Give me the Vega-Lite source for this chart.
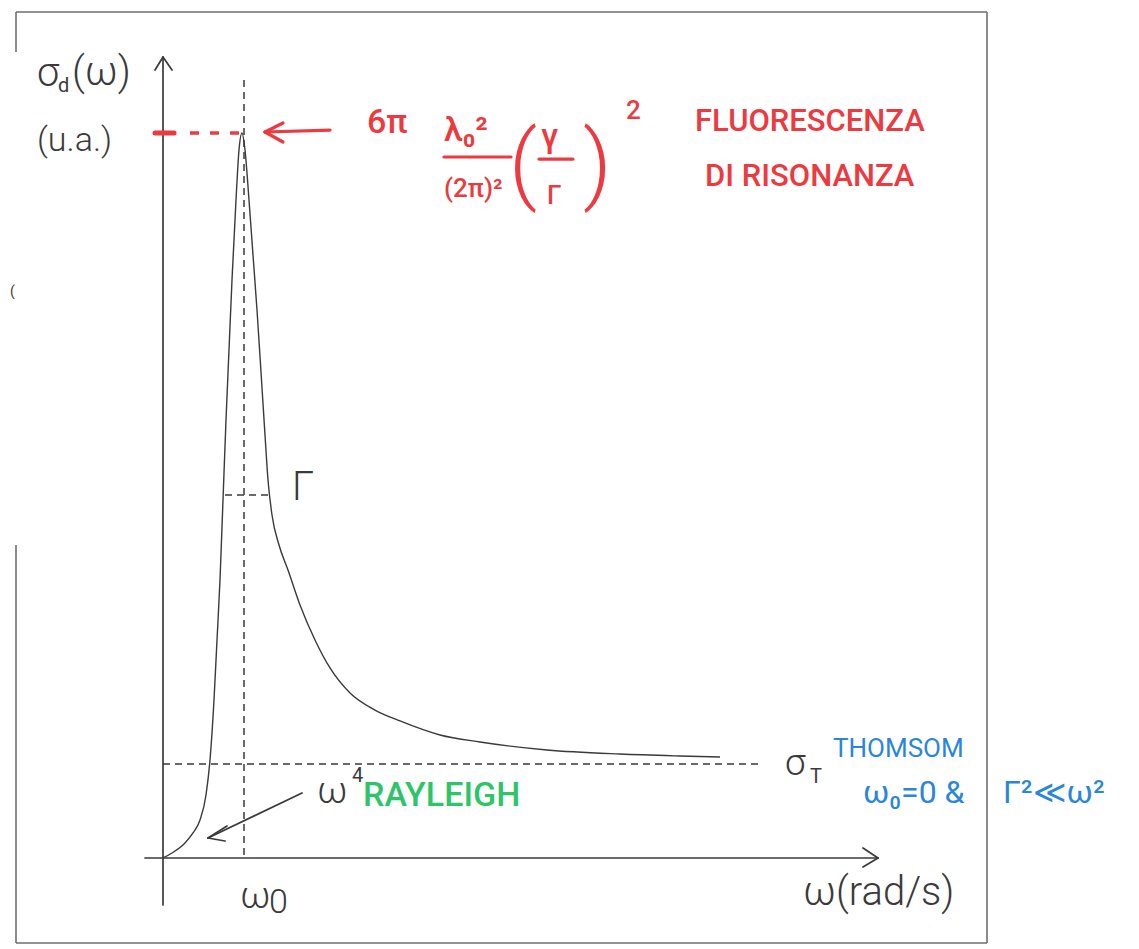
{
  "$schema": "https://vega.github.io/schema/vega-lite/v6.json",
  "width": 1139,
  "height": 949,
  "padding": 0,
  "autosize": {"type": "fit", "contains": "padding"},
  "background": "white",
  "config": {"view": {"stroke": null}},
  "datasets": {
    "frame": [
      {"x": -18.375, "y": 116.69, "x2": 103.0, "y2": 116.69},
      {"x": 103.0, "y": 116.69, "x2": 103.0, "y2": -11.72},
      {"x": -18.375, "y": -11.72, "x2": 103.0, "y2": -11.72},
      {"x": -18.375, "y": 116.69, "x2": -18.375, "y2": 111.17},
      {"x": -18.375, "y": 43.17, "x2": -18.375, "y2": -11.72}
    ],
    "axes": [
      {"x": 0, "y": 110.48, "x2": 0, "y2": -6.48},
      {"x": -1, "y": 108.69, "x2": 0, "y2": 110.48},
      {"x": 1.125, "y": 108.69, "x2": 0, "y2": 110.48},
      {"x": -2.25, "y": 0, "x2": 89.375, "y2": 0},
      {"x": 87.5, "y": 1.38, "x2": 89.375, "y2": 0},
      {"x": 87.5, "y": -1.24, "x2": 89.375, "y2": 0},
      {"x": 17.375, "y": 8.97, "x2": 5.625, "y2": 2.76},
      {"x": 8.0, "y": 4.41, "x2": 5.625, "y2": 2.76},
      {"x": 7.75, "y": 2.34, "x2": 5.625, "y2": 2.76}
    ],
    "curve": [
      {"x": 0, "y": 0},
      {"x": 1.125, "y": 0.69},
      {"x": 2.75, "y": 2.07},
      {"x": 3.75, "y": 3.45},
      {"x": 4.625, "y": 5.24},
      {"x": 5.375, "y": 8.69},
      {"x": 5.875, "y": 13.52},
      {"x": 6.375, "y": 21.79},
      {"x": 6.75, "y": 30.07},
      {"x": 7.125, "y": 38.34},
      {"x": 7.5, "y": 49.38},
      {"x": 7.875, "y": 60.41},
      {"x": 8.25, "y": 70.07},
      {"x": 8.625, "y": 79.72},
      {"x": 9.125, "y": 90.76},
      {"x": 9.5, "y": 97.66},
      {"x": 9.875, "y": 100},
      {"x": 10.25, "y": 97.66},
      {"x": 10.75, "y": 90.76},
      {"x": 11.25, "y": 83.17},
      {"x": 11.75, "y": 75.59},
      {"x": 12.25, "y": 67.03},
      {"x": 12.75, "y": 58.34},
      {"x": 13.125, "y": 52.14},
      {"x": 13.625, "y": 47.31},
      {"x": 14.5, "y": 43.17},
      {"x": 15.625, "y": 39.72},
      {"x": 17.125, "y": 34.9},
      {"x": 19.0, "y": 30.07},
      {"x": 20.875, "y": 26.21},
      {"x": 23.375, "y": 22.76},
      {"x": 26.5, "y": 20.41},
      {"x": 29.625, "y": 18.9},
      {"x": 34.625, "y": 16.97},
      {"x": 39.625, "y": 16.0},
      {"x": 48.0, "y": 14.9},
      {"x": 57.125, "y": 14.34},
      {"x": 64.625, "y": 14.07},
      {"x": 69.625, "y": 13.93}
    ],
    "guides": [
      {"x": 10.125, "y": 107.31, "x2": 10.125, "y2": 0.41},
      {"x": 0, "y": 12.97, "x2": 75.0, "y2": 12.97},
      {"x": 7.75, "y": 50.07, "x2": 13.375, "y2": 50.07}
    ],
    "peakDash": [
      {"x": 3.375, "y": 100, "x2": 9.875, "y2": 100}
    ],
    "peakTick": [
      {"x": -1, "y": 100, "x2": 1.375, "y2": 100}
    ],
    "redLines": [
      {"x": 20.875, "y": 100.41, "x2": 12.75, "y2": 100.14},
      {"x": 15.0, "y": 101.38, "x2": 12.75, "y2": 100.14},
      {"x": 15.0, "y": 98.76, "x2": 12.75, "y2": 100.14},
      {"x": 35.125, "y": 96.69, "x2": 43.5, "y2": 96.69},
      {"x": 47.0, "y": 96.41, "x2": 51.25, "y2": 96.41}
    ],
    "blackXL": [
      {"x": -15.75, "y": 106.48, "t": "σ"},
      {"x": -11.375, "y": 106.62, "t": "(ω)"},
      {"x": 80.0, "y": -6.48, "t": "ω(rad/s)"},
      {"x": 16.125, "y": 49.38, "t": "Γ"}
    ],
    "blackL": [
      {"x": 19.25, "y": 7.59, "t": "ω"},
      {"x": 77.75, "y": 11.45, "t": "σ"},
      {"x": 9.625, "y": -6.9, "t": "ω"}
    ],
    "blackM": [
      {"x": -15.75, "y": 97.52, "t": "(u.a.)"},
      {"x": 13.25, "y": -7.59, "t": "0"}
    ],
    "blackS": [
      {"x": -13.125, "y": 105.66, "t": "d"},
      {"x": 23.625, "y": 10.48, "t": "4"},
      {"x": 80.875, "y": 10.34, "t": "T"}
    ],
    "blackXS": [
      {"x": -19.125, "y": 77.52, "t": "("}
    ],
    "redL": [
      {"x": 25.5, "y": 100, "t": "6π"},
      {"x": 35.125, "y": 98.9, "t": "λ₀²"},
      {"x": 47.25, "y": 98.07, "t": "γ"}
    ],
    "redM": [
      {"x": 35.125, "y": 91.17, "t": "(2π)²"},
      {"x": 48.0, "y": 90.21, "t": "Γ"},
      {"x": 57.875, "y": 101.93, "t": "2"}
    ],
    "redWords": [
      {"x": 66.5, "y": 100.28, "t": "FLUORESCENZA"},
      {"x": 67.75, "y": 92.69, "t": "DI RISONANZA"}
    ],
    "redParens": [
      {"x": 43.25, "y": 95.31, "t": "("},
      {"x": 52.5, "y": 95.31, "t": ")"}
    ],
    "blueTitle": [
      {"x": 83.75, "y": 13.93, "t": "THOMSOM"}
    ],
    "blueCond": [
      {"x": 87.5, "y": 7.59, "t": "ω₀=0 &"},
      {"x": 105.0, "y": 7.59, "t": "Γ²≪ω²"}
    ],
    "green": [
      {"x": 25.0, "y": 7.17, "t": "RAYLEIGH"}
    ]
  },
  "encoding": {
    "x": {"field": "x", "type": "quantitative", "scale": {"domain": [-20.375, 122], "nice": false, "zero": false}, "axis": null},
    "y": {"field": "y", "type": "quantitative", "scale": {"domain": [-12.552, 118.345], "nice": false, "zero": false}, "axis": null}
  },
  "layer": [
    {"data": {"name": "frame"}, "mark": {"type": "rule", "color": "#6e6e6e", "strokeWidth": 1.6}, "encoding": {"x2": {"field": "x2"}, "y2": {"field": "y2"}}},
    {"data": {"name": "axes"}, "mark": {"type": "rule", "color": "#3a3a3a", "strokeWidth": 1.7, "strokeCap": "round"}, "encoding": {"x2": {"field": "x2"}, "y2": {"field": "y2"}}},
    {"data": {"name": "curve"}, "mark": {"type": "line", "color": "#3a3a3a", "strokeWidth": 1.4, "interpolate": "monotone"}, "encoding": {}},
    {"data": {"name": "guides"}, "mark": {"type": "rule", "color": "#3a3a3a", "strokeWidth": 1.5, "strokeDash": [7, 5]}, "encoding": {"x2": {"field": "x2"}, "y2": {"field": "y2"}}},
    {"data": {"name": "peakDash"}, "mark": {"type": "rule", "color": "#ec3a40", "strokeWidth": 3.5, "strokeDash": [9, 11]}, "encoding": {"x2": {"field": "x2"}, "y2": {"field": "y2"}}},
    {"data": {"name": "peakTick"}, "mark": {"type": "rule", "color": "#ec3a40", "strokeWidth": 5, "strokeCap": "round"}, "encoding": {"x2": {"field": "x2"}, "y2": {"field": "y2"}}},
    {"data": {"name": "redLines"}, "mark": {"type": "rule", "color": "#ec3a40", "strokeWidth": 3.2, "strokeCap": "round"}, "encoding": {"x2": {"field": "x2"}, "y2": {"field": "y2"}}},
    {"data": {"name": "blackXL"}, "mark": {"type": "text", "font": "Roboto", "fontWeight": 300, "fontSize": 40, "color": "#3a3a3a", "align": "left", "baseline": "alphabetic"}, "encoding": {"text": {"field": "t"}}},
    {"data": {"name": "blackL"}, "mark": {"type": "text", "font": "Roboto", "fontWeight": 300, "fontSize": 37, "color": "#3a3a3a", "align": "left", "baseline": "alphabetic"}, "encoding": {"text": {"field": "t"}}},
    {"data": {"name": "blackM"}, "mark": {"type": "text", "font": "Roboto", "fontWeight": 300, "fontSize": 34, "color": "#3a3a3a", "align": "left", "baseline": "alphabetic"}, "encoding": {"text": {"field": "t"}}},
    {"data": {"name": "blackS"}, "mark": {"type": "text", "font": "Roboto", "fontWeight": 400, "fontSize": 20, "color": "#3a3a3a", "align": "left", "baseline": "alphabetic"}, "encoding": {"text": {"field": "t"}}},
    {"data": {"name": "blackXS"}, "mark": {"type": "text", "font": "Roboto", "fontWeight": 400, "fontSize": 14, "color": "#3a3a3a", "align": "left", "baseline": "alphabetic"}, "encoding": {"text": {"field": "t"}}},
    {"data": {"name": "redL"}, "mark": {"type": "text", "font": "Roboto", "fontWeight": 500, "fontSize": 34, "color": "#ec3a40", "align": "left", "baseline": "alphabetic"}, "encoding": {"text": {"field": "t"}}},
    {"data": {"name": "redM"}, "mark": {"type": "text", "font": "Roboto", "fontWeight": 500, "fontSize": 26, "color": "#ec3a40", "align": "left", "baseline": "alphabetic"}, "encoding": {"text": {"field": "t"}}},
    {"data": {"name": "redWords"}, "mark": {"type": "text", "font": "Roboto", "fontWeight": 500, "fontSize": 31, "color": "#ec3a40", "align": "left", "baseline": "alphabetic"}, "encoding": {"text": {"field": "t"}}},
    {"data": {"name": "redParens"}, "mark": {"type": "text", "font": "Roboto", "fontWeight": 300, "fontSize": 88, "color": "#ec3a40", "align": "left", "baseline": "middle"}, "encoding": {"text": {"field": "t"}}},
    {"data": {"name": "blueTitle"}, "mark": {"type": "text", "font": "Roboto", "fontWeight": 400, "fontSize": 26, "color": "#2a86da", "align": "left", "baseline": "alphabetic"}, "encoding": {"text": {"field": "t"}}},
    {"data": {"name": "blueCond"}, "mark": {"type": "text", "font": "Roboto", "fontWeight": 400, "fontSize": 32, "color": "#2a86da", "align": "left", "baseline": "alphabetic"}, "encoding": {"text": {"field": "t"}}},
    {"data": {"name": "green"}, "mark": {"type": "text", "font": "Roboto", "fontWeight": 500, "fontSize": 34, "color": "#2ec46a", "align": "left", "baseline": "alphabetic"}, "encoding": {"text": {"field": "t"}}}
  ]
}
